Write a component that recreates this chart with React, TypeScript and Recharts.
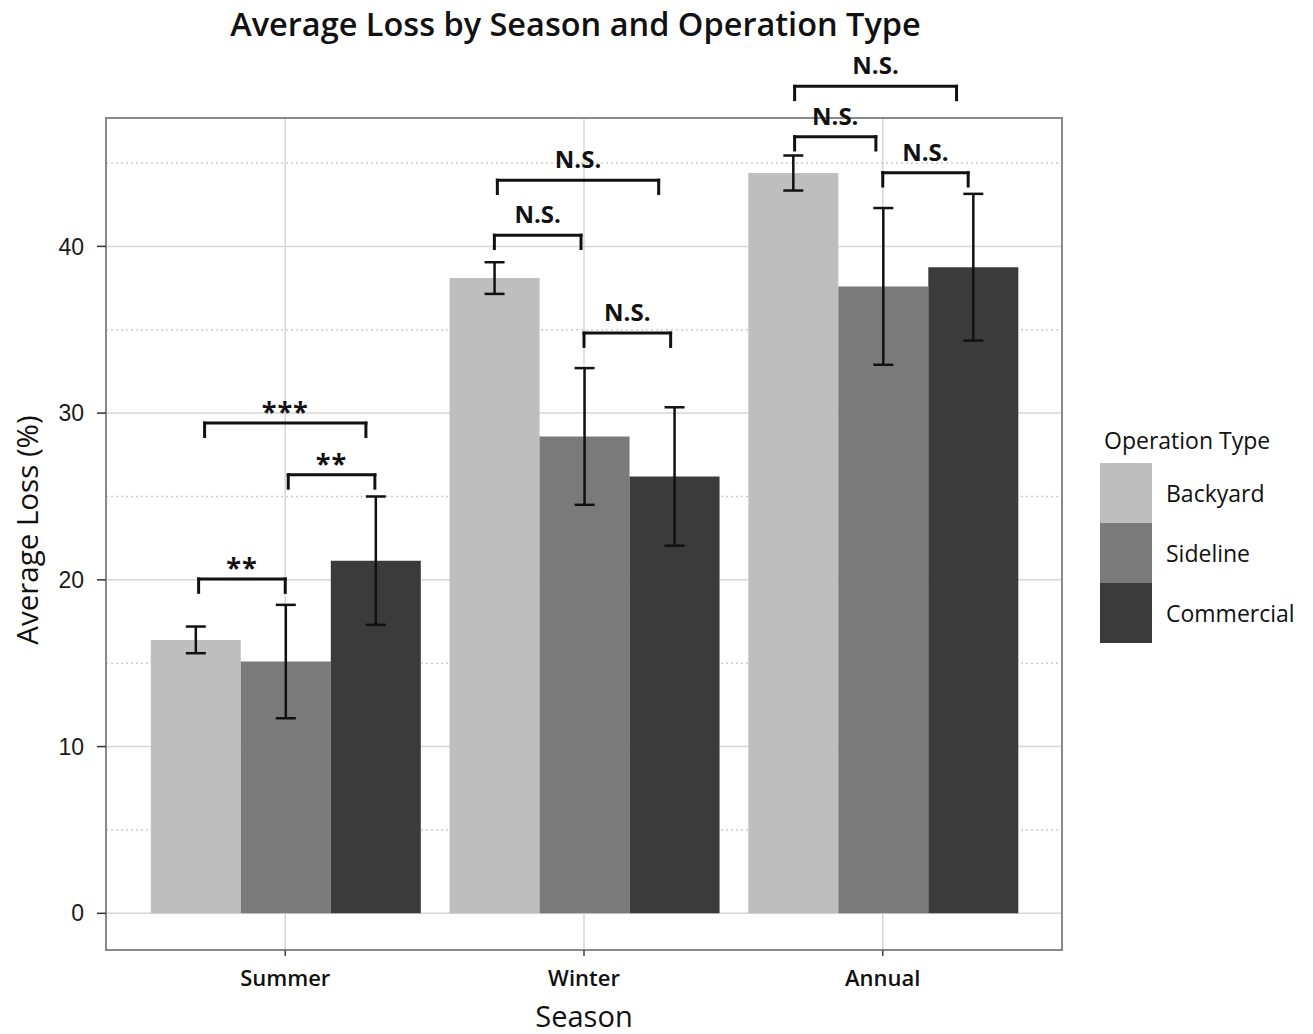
import React from 'react';
import {
  ComposedChart,
  Bar,
  XAxis,
  YAxis,
  CartesianGrid,
  ErrorBar,
  ReferenceLine,
  ReferenceArea,
  Legend,
  Label,
} from 'recharts';

// ---------- data ----------
const seasons = ['Summer', 'Winter', 'Annual'];
const seasonPos = [1, 2, 3];
const operationTypes = ['Backyard', 'Sideline', 'Commercial'];
const backyardLoss = [16.4, 38.1, 44.4];
const backyardErr = [0.8, 0.95, 1.05];
const sidelineLoss = [15.1, 28.6, 37.6];
const sidelineErr = [3.4, 4.1, 4.7];
const commercialLoss = [21.15, 26.2, 38.75];
const commercialErr = [3.85, 4.15, 4.4];
const yTicks = [0, 10, 20, 30, 40];
const yMinorTicks = [5, 15, 25, 35, 45];
const yDomain = [-2.2, 47.7];
const xDomain = [0.4, 3.6]; // season positions: Summer=1, Winter=2, Annual=3

// significance brackets (x in season units, y in %)
const bracketStart = [0.71, 1.01, 0.73, 1.7, 2.0, 1.71, 2.705, 3.0, 2.705];
const bracketEnd = [1.0, 1.3, 1.27, 1.99, 2.29, 2.25, 2.977, 3.286, 3.247];
const bracketY = [20.05, 26.3, 29.4, 40.67, 34.8, 43.97, 46.58, 44.42, 49.6];
const bracketLabel = ['**', '**', '***', 'N.S.', 'N.S.', 'N.S.', 'N.S.', 'N.S.', 'N.S.'];
const bracketDrop = 0.8;

const data = seasons.map((s, i) => ({
  season: s,
  pos: seasonPos[i],
  Backyard: backyardLoss[i],
  BackyardErr: backyardErr[i],
  Sideline: sidelineLoss[i],
  SidelineErr: sidelineErr[i],
  Commercial: commercialLoss[i],
  CommercialErr: commercialErr[i],
}));

// ---------- styles ----------
const FONT = '"Open Sans", sans-serif';
const TICK_FONT = '"Liberation Sans", Arial, sans-serif';
const colors: Record<string, string> = {
  Backyard: '#bebebe',
  Sideline: '#7a7a7a',
  Commercial: '#3b3b3b',
};
const W = 1297;
const H = 1026;

const renderLegend = () => (
  <div style={{ fontFamily: FONT, color: '#111', whiteSpace: 'nowrap' }}>
    <div style={{ height: 38, lineHeight: '30px', fontSize: 23, fontWeight: 500, paddingLeft: 4 }}>
      Operation Type
    </div>
    {operationTypes.map((t) => (
      <div key={t} style={{ display: 'flex', alignItems: 'center', height: 60 }}>
        <div style={{ width: 52, height: 60, background: colors[t] }} />
        <span style={{ marginLeft: 14, fontSize: 23, fontWeight: 500 }}>{t}</span>
      </div>
    ))}
  </div>
);

const YLabel = (props: any) => {
  const vb = props.viewBox || { x: 0, y: 0, width: 0, height: 0 };
  const cx = vb.x + 18;
  const cy = vb.y + vb.height / 2 - 4;
  return (
    <text
      x={cx}
      y={cy}
      transform={`rotate(-90 ${cx} ${cy})`}
      textAnchor="middle"
      dominantBaseline="central"
      fontFamily={FONT}
      fontSize={29.5}
      fontWeight={500}
      fill="#111"
    >
      Average Loss (%)
    </text>
  );
};

export default function App() {
  const brackets: React.ReactNode[] = [];
  bracketLabel.forEach((lab, i) => {
    const x1 = bracketStart[i];
    const x2 = bracketEnd[i];
    const y = bracketY[i];
    const isStar = lab.includes('*');
    const common = {
      xAxisId: 'num',
      stroke: '#111',
      strokeWidth: 3,
      ifOverflow: 'visible' as const,
      strokeLinecap: 'square' as const,
    };
    brackets.push(
      <ReferenceLine
        key={`h${i}`}
        {...common}
        segment={[
          { x: x1, y },
          { x: x2, y },
        ]}
        label={{
          value: lab,
          position: 'top',
          offset: isStar ? 2 : 12,
          fill: '#111',
          fontFamily: FONT,
          fontSize: isStar ? 27 : 24,
          fontWeight: 700,
          letterSpacing: isStar ? 1 : 0,
        }}
      />,
      <ReferenceLine
        key={`l${i}`}
        {...common}
        segment={[
          { x: x1, y },
          { x: x1, y: y - bracketDrop },
        ]}
      />,
      <ReferenceLine
        key={`r${i}`}
        {...common}
        segment={[
          { x: x2, y },
          { x: x2, y: y - bracketDrop },
        ]}
      />
    );
  });

  return (
    <div style={{ position: 'relative', width: W, height: H }}>
      <div
        style={{
          position: 'absolute',
          left: 0,
          top: -1,
          width: 1135,
          textAlign: 'center',
          fontFamily: FONT,
          fontSize: 32.5,
          fontWeight: 600,
          lineHeight: '34px',
          color: '#111',
          zIndex: 2,
        }}
      >
        Average Loss by Season and Operation Type
      </div>
      <ComposedChart
        width={W}
        height={H}
        data={data}
        margin={{ top: 110, right: 243, bottom: 0, left: 0 }}
        barCategoryGap="5%"
        barGap={0}
      >
        <CartesianGrid stroke="#d6d6d6" strokeWidth={1.5} />
        <CartesianGrid yAxisId="minor" vertical={false} stroke="#cccccc" strokeWidth={1.5} strokeDasharray="2 3" />
        <XAxis
          dataKey="season"
          padding={{ left: 29.875, right: 29.875 }}
          axisLine={false}
          tickSize={6}
          tickMargin={14}
          tickLine={{ stroke: '#444', strokeWidth: 1.5 }}
          tick={{ fontFamily: FONT, fontSize: 22, fontWeight: 600, fill: '#111' }}
          height={84}
          interval={0}
        >
          <Label
            value="Season"
            position="insideBottom"
            offset={7}
            fontFamily={FONT}
            fontSize={29}
            fontWeight={500}
            fill="#111"
          />
        </XAxis>
        <XAxis xAxisId="num" dataKey="pos" type="number" domain={xDomain} hide allowDataOverflow />
        <YAxis
          domain={yDomain}
          ticks={yTicks}
          allowDataOverflow
          width={98}
          axisLine={false}
          tickSize={9}
          tickMargin={13}
          tickLine={{ stroke: '#333', strokeWidth: 1.5 }}
          tick={{ fontFamily: TICK_FONT, fontSize: 23, fill: '#1a1a1a' }}
        >
          <Label content={<YLabel />} />
        </YAxis>
        <YAxis yAxisId="minor" hide domain={yDomain} ticks={yMinorTicks} allowDataOverflow />
        <ReferenceArea
          xAxisId="num"
          x1={xDomain[0]}
          x2={xDomain[1]}
          y1={yDomain[0]}
          y2={yDomain[1]}
          fill="none"
          stroke="#8a8a8a"
          strokeWidth={2}
          ifOverflow="visible"
        />
        {operationTypes.map((t) => (
          <Bar key={t} dataKey={t} fill={colors[t]} isAnimationActive={false}>
            <ErrorBar
              dataKey={`${t}Err`}
              width={10}
              strokeWidth={2.5}
              stroke="#111"
              direction="y"
              isAnimationActive={false}
            />
          </Bar>
        ))}
        {brackets}
        <Legend
          layout="vertical"
          align="center"
          verticalAlign="middle"
          content={renderLegend}
          wrapperStyle={{ left: 1092, top: 417, width: 205 }}
        />
      </ComposedChart>
    </div>
  );
}
